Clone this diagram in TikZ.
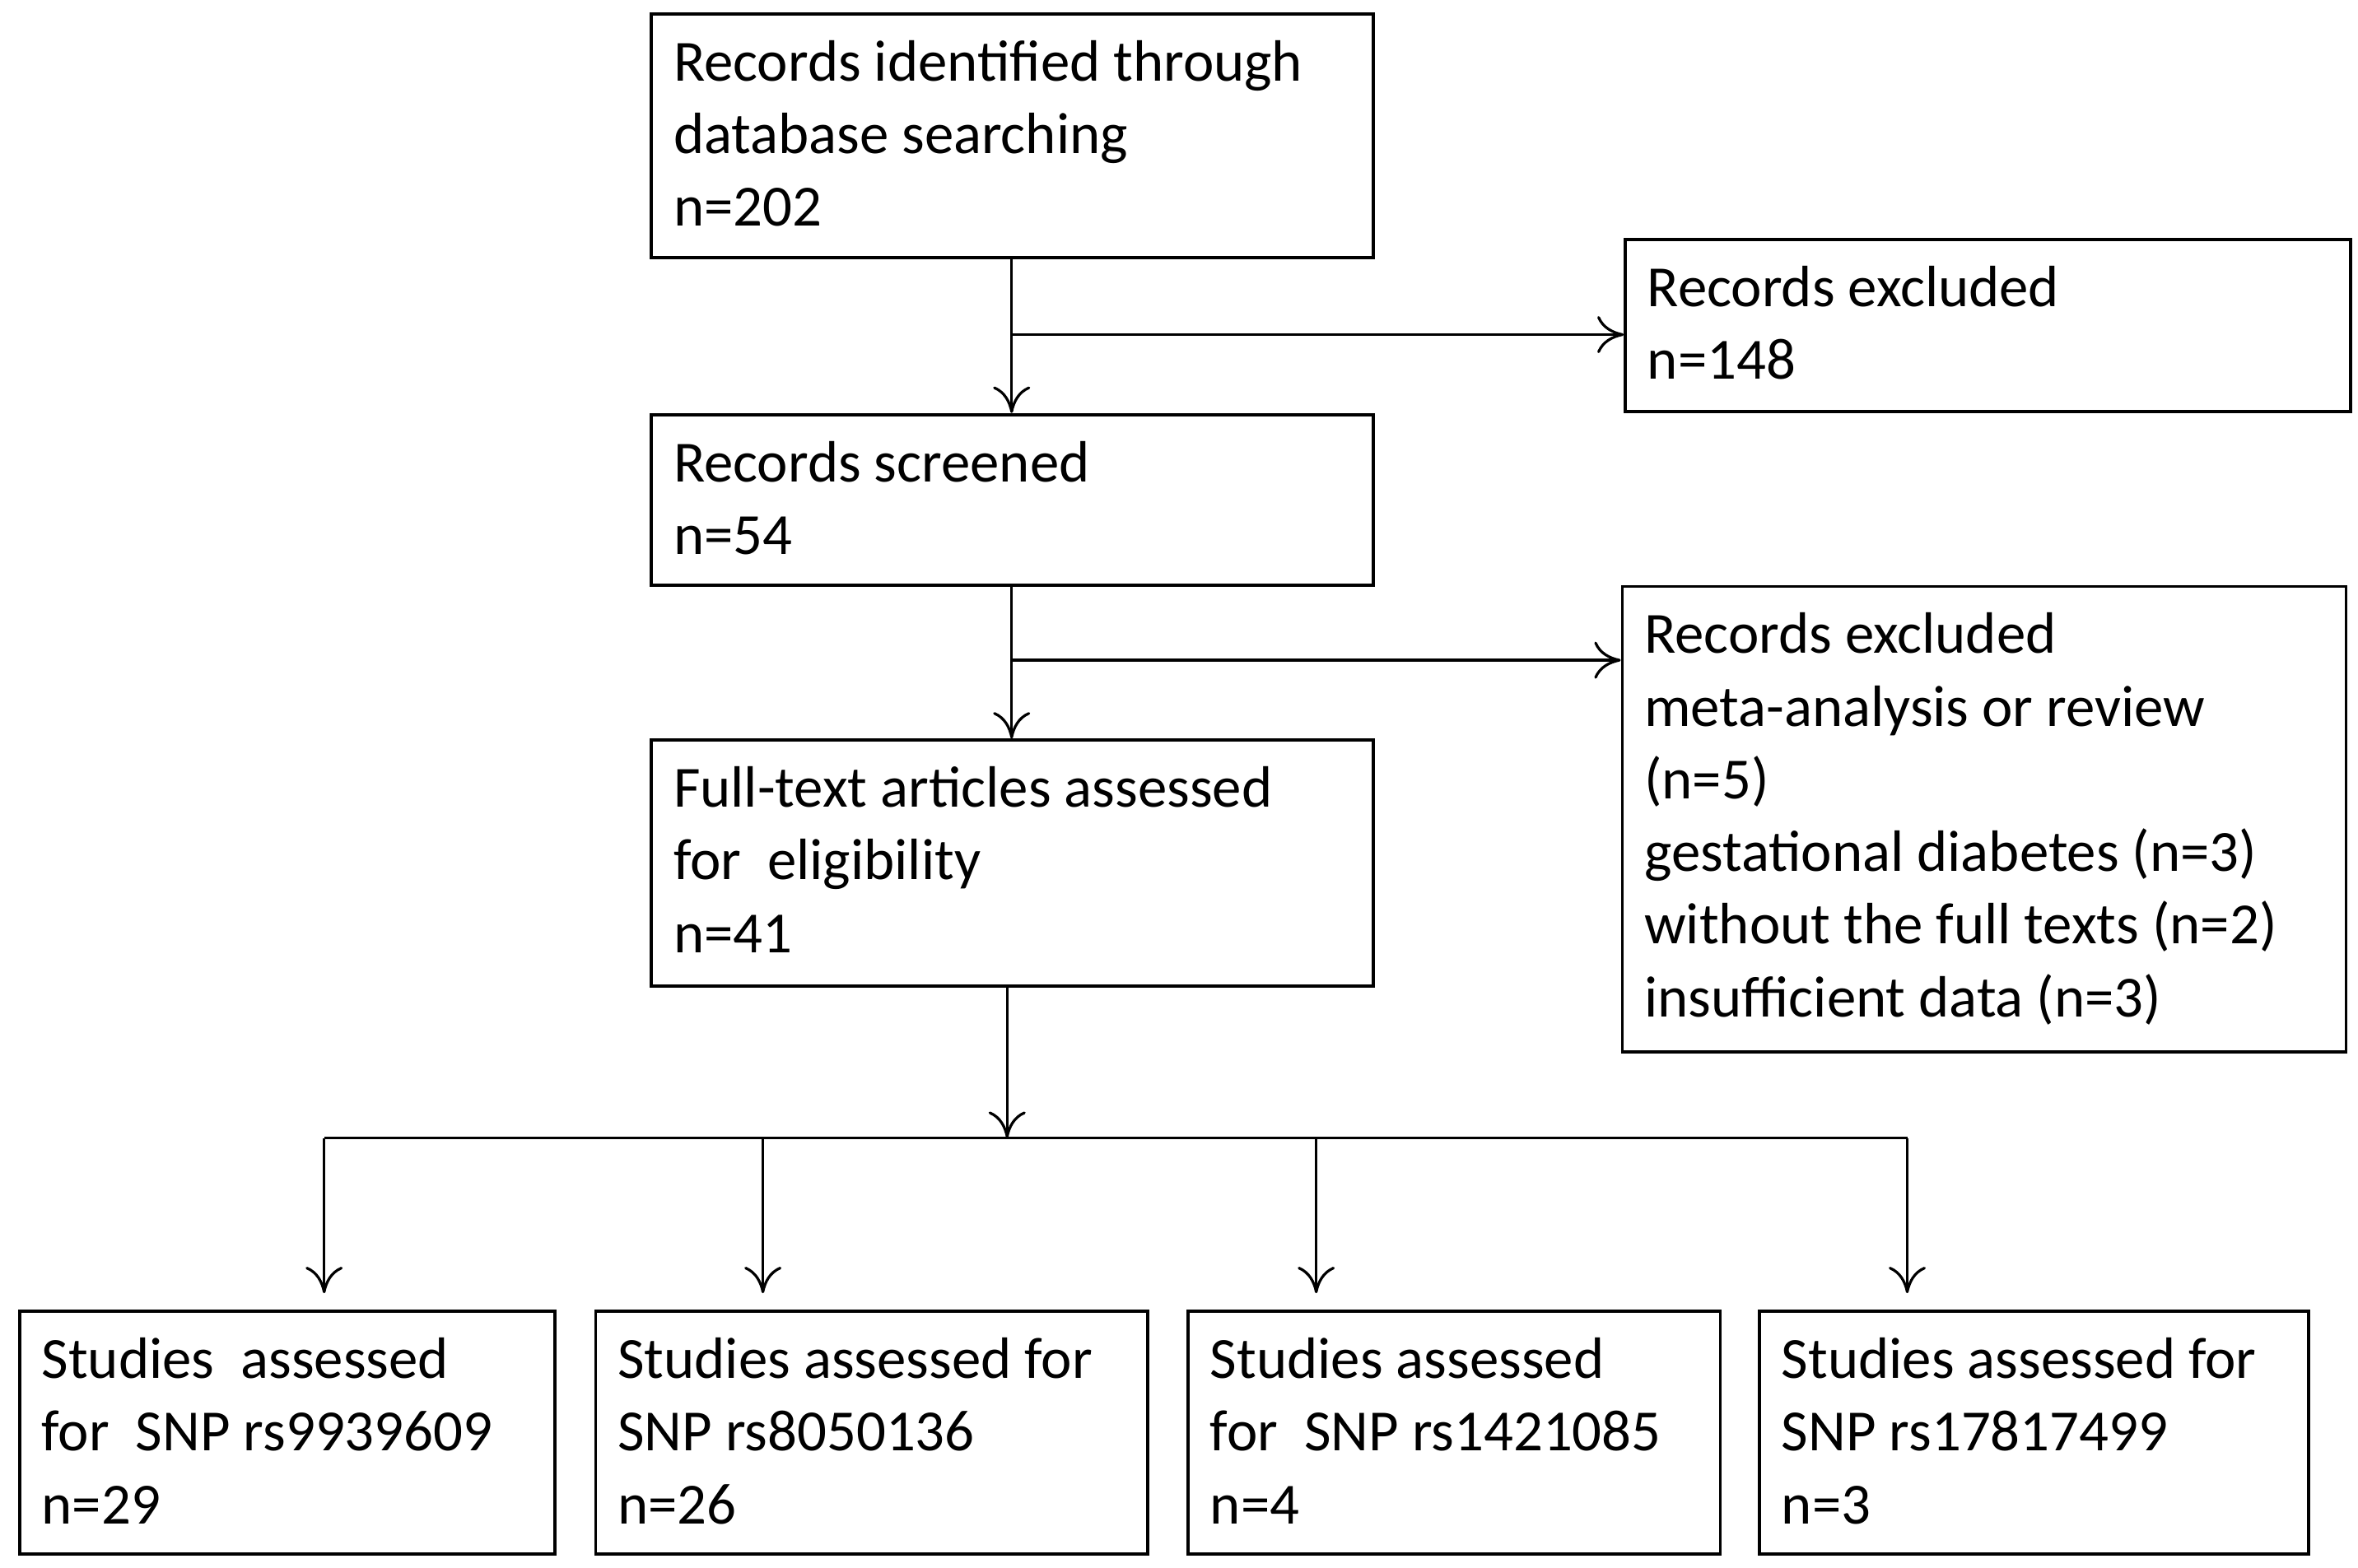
\documentclass[tikz,border=0pt]{standalone}
\usepackage{fontspec}
\setmainfont{Carlito}
\usetikzlibrary{arrows.meta}
\begin{document}
\begin{tikzpicture}[x=0.01cm,y=-0.01cm,
  box/.style={draw,line width=0.6pt,inner sep=0,anchor=north west},
  txt/.style={anchor=north west,inner sep=0,align=left,font=\fontsize{11pt}{13.7pt}\selectfont},
  arr/.style={line width=0.5pt,-{To[length=5pt,width=7pt]}},
  ln/.style={line width=0.5pt}]
\useasboundingbox (0,0) rectangle (1564,1040);
\newcommand{\bx}[6]{\node[box,minimum width=#3*0.01cm,minimum height=#4*0.01cm] (#5) at (#1,#2) {};
  \node[txt] (#5t) at (#1+15,#2+18) {#6};}
\bx{431}{8}{479}{162}{b1}{Records identified through\\database searching\\n=202}
\bx{1077}{158}{481}{114}{e1}{Records excluded\\n=148}
\bx{431}{274}{479}{113}{b2}{Records screened\\n=54}
\bx{1075}{388}{480}{309}{e2}{Records excluded\\meta-analysis or review\\(n=5)\\gestational diabetes (n=3)\\without the full texts (n=2)\\insufficient data (n=3)}
\bx{431}{490}{479}{163}{b3}{Full-text articles assessed\\for~ eligibility\\n=41}
\bx{12}{869}{355}{161}{s1}{Studies~ assessed\\for~ SNP rs9939609\\n=29}
\bx{394}{869}{366}{161}{s2}{Studies assessed for\\SNP rs8050136\\n=26}
\bx{787}{869}{353}{161}{s3}{Studies assessed\\for~ SNP rs1421085\\n=4}
\bx{1166}{869}{364}{161}{s4}{Studies assessed for\\SNP rs17817499\\n=3}
\draw[arr] (b1.south -| 671,0) -- (b2.north -| 671,0);
\draw[arr] (671,222) -- (e1.west |- 0,222);
\draw[arr] (b2.south -| 671,0) -- (b3.north -| 671,0);
\draw[arr] (671,438) -- (e2.west |- 0,438);
\coordinate (j) at (668,755);
\draw[arr] (b3.south -| 668,0) -- (j);
\draw[ln] (215,755) -- (1265,755);
\draw[arr] (215,755) -- (215,858);
\draw[arr] (506,755) -- (506,858);
\draw[arr] (873,755) -- (873,858);
\draw[arr] (1265,755) -- (1265,858);
\end{tikzpicture}
\end{document}
